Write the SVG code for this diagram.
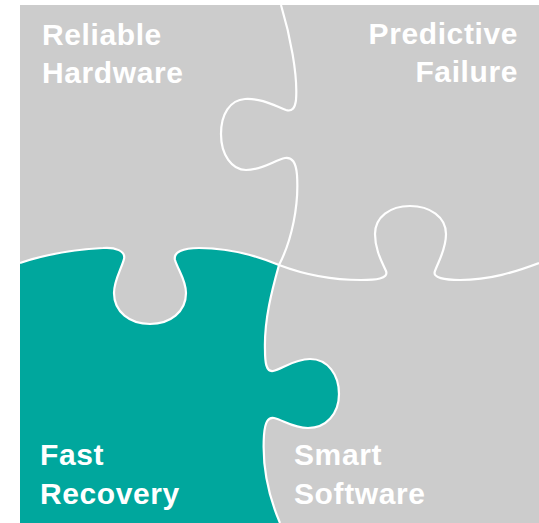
<svg xmlns="http://www.w3.org/2000/svg" width="539" height="523" viewBox="0 0 539 523">
<style>
.lbl{font-family:"Liberation Sans",Arial,sans-serif;font-weight:bold;font-size:30px;letter-spacing:0.6px;fill:#ffffff}
.seam{fill:none;stroke:#ffffff;stroke-width:2.2;stroke-linejoin:round}
</style>
<rect x="0" y="0" width="539" height="523" fill="#ffffff"/>
<g id="board">
<rect x="20" y="5" width="519" height="518" fill="#cccccc"/>
</g>
<g id="fast-recovery-piece">
<path fill="#00a79d" d="M20,263 C40,256 70,250 103,248 C115,247 126,251 124,259 C121,270 114,280 114,293 C114,312 130,324 150,324 C170,324 186,312 186,293 C186,280 178,270 175,260 C173,252 183,248 199,248 C230,248 255,255 279,265 C272,290 264,320 265,350 C265,362 266,372 273,371 C282,369 294,359 310,359 C328,359 339,375 339,394 C339,414 326,428 308,428 C293,428 283,420 274,418 C268,417 265,422 264,435 C262,465 268,495 280,523 L20,523 Z"/>
</g>
<g id="connectors">
<path class="seam" d="M281,5 C290,35 298,75 296,100 C295,108 292,112 286,110 C275,106 262,98 245,99 C230,100 221,114 221,134 C221,155 232,170 246,170 C263,170 275,160 285,158 C292,157 296,162 297,175 C299,205 292,240 279,265 C272,290 264,320 265,350 C265,362 266,372 273,371 C282,369 294,359 310,359 C328,359 339,375 339,394 C339,414 326,428 308,428 C293,428 283,420 274,418 C268,417 265,422 264,435 C262,465 268,495 280,523"/>
<path class="seam" d="M20,263 C40,256 70,250 103,248 C115,247 126,251 124,259 C121,270 114,280 114,293 C114,312 130,324 150,324 C170,324 186,312 186,293 C186,280 178,270 175,260 C173,252 183,248 199,248 C230,248 255,255 279,265 C300,273 330,280 361,280 C375,280 389,279 386,271 C382,262 375,250 375,234 C375,217 390,206 410,206 C430,206 446,217 446,234 C446,250 438,262 435,271 C432,278 445,280 460,280 C490,280 515,272 539,263"/>
</g>
<g id="reliable-hardware">
<text class="lbl" x="42" y="45">Reliable</text>
<text class="lbl" x="42" y="83">Hardware</text>
</g>
<g id="predictive-failure">
<text class="lbl" x="518" y="44" text-anchor="end">Predictive</text>
<text class="lbl" x="518" y="82" text-anchor="end">Failure</text>
</g>
<g id="fast-recovery">
<text class="lbl" x="40" y="465">Fast</text>
<text class="lbl" x="40" y="504">Recovery</text>
</g>
<g id="smart-software">
<text class="lbl" x="294" y="465">Smart</text>
<text class="lbl" x="294" y="504">Software</text>
</g>
</svg>
